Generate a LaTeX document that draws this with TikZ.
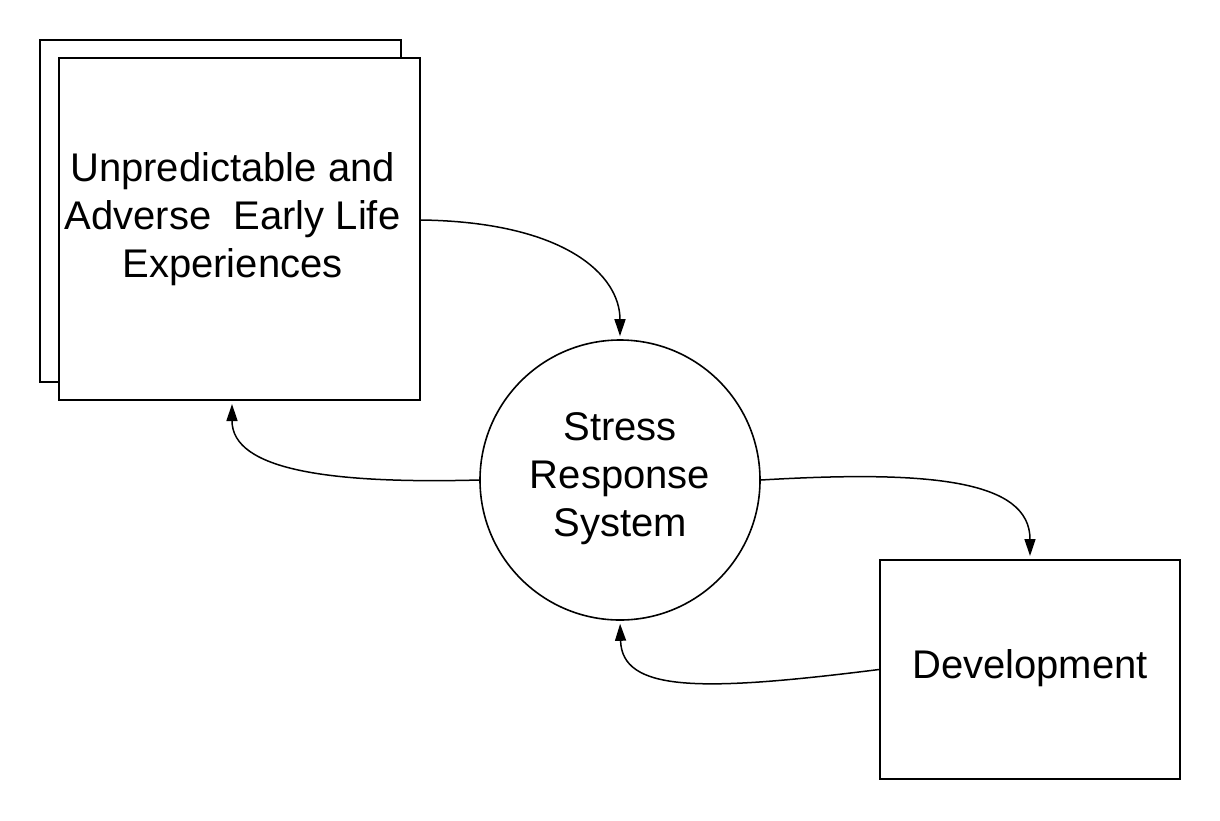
\documentclass[tikz,border=0pt]{standalone}
\usepackage{fontspec}
\setmainfont{Liberation Sans}
\usetikzlibrary{arrows.meta}
\tikzset{
  boxshape/.style={draw=black, line width=1pt, fill=white, inner sep=0pt},
  circshape/.style={draw=black, line width=0.8pt, circle, minimum size=140pt, inner sep=0pt},
  lbl/.style={align=center, font=\fontsize{20pt}{24pt}\selectfont, inner sep=0pt},
  flow/.style={draw=black, line width=0.75pt, -{Triangle[length=8.5pt,width=5.5pt]}, shorten >=1.5pt}
}
\begin{document}
\begin{tikzpicture}[x=0.5pt,y=-0.5pt]
\useasboundingbox (0,0) rectangle (1220,820);
% stacked back rectangle
\draw[line width=1pt] (40,40) rectangle (401,382);
\node[boxshape, minimum width=180.5pt, minimum height=171pt] (front) at (239.5,229) {};
\node[lbl] (fronttext) at (232.5,219) {Unpredictable and\\Adverse\ \ Early Life\\Experiences};
\node[circshape] (circ) at (620,480) {};
\node[lbl] (circtext) at (620,479) {Stress\\Response\\System};
\node[boxshape, minimum width=150pt, minimum height=109.5pt] (dev) at (1030,669.5) {};
\node[lbl] (devtext) at (1030,668) {Development};
% connectors
\draw[flow] ([yshift=4.5pt]front.east) .. controls (565,222) and (620,275) .. (circ.north);
\draw[flow] (circ.west) .. controls (330,484) and (232,470) .. ([xshift=-3.75pt]front.south);
\draw[flow] (circ.east) .. controls (930,470) and (1030,480) .. (dev.north);
\draw[flow] (dev.west) .. controls (700,692) and (622,692) .. (circ.south);
\end{tikzpicture}
\end{document}
